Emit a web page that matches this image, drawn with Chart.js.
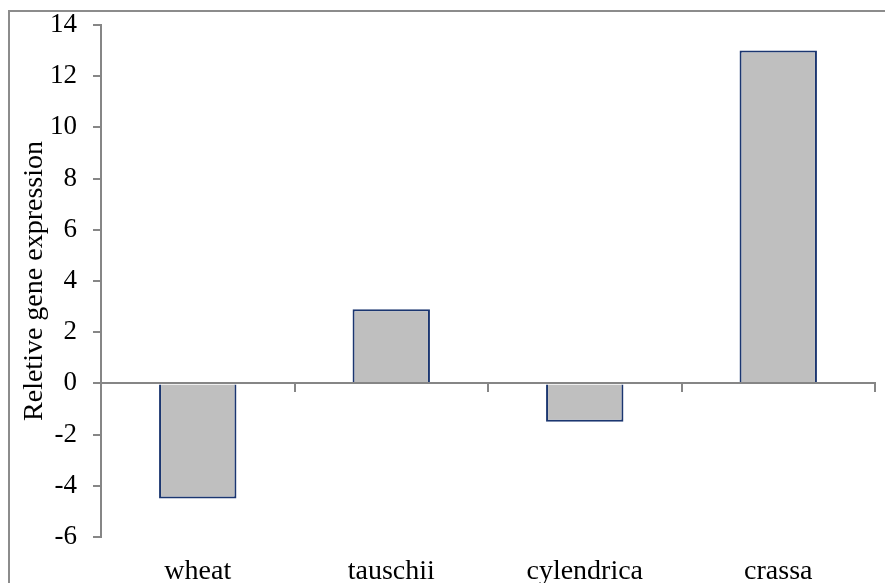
<!DOCTYPE html>
<html>
<head>
<meta charset="utf-8">
<script src="https://cdn.jsdelivr.net/npm/chart.js@4"></script>
<style>
    html, body { margin: 0; padding: 0; background: #fff; overflow: hidden; }
    #wrap { position: relative; width: 885px; height: 583px; }
    #frame { position: absolute; left: 8px; top: 10px; width: 1000px; height: 1000px;
             border-left: 2px solid #8c8c8c; border-top: 2px solid #8c8c8c; }
    canvas { position: absolute; left: 0; top: 0; }
</style>
</head>
<body>
<div id="wrap">
    <div id="frame"></div>
    <canvas id="c" width="885" height="583"></canvas>
</div>
<script>
const categories = [ 'wheat', 'tauschii', 'cylendrica', 'crassa' ];
const expression = [ -4.5, 2.9, -1.5, 13 ];
const yTicks = [ -6, -4, -2, 0, 2, 4, 6, 8, 10, 12, 14 ];

const axisGray = '#868686';

Chart.defaults.font.family = 'Liberation Serif, Times New Roman, serif';
Chart.defaults.font.size = 27;
Chart.defaults.color = '#000';
Chart.defaults.animation = false;

new Chart( document.getElementById( 'c' ), {
    type: 'bar',
    data: {
        labels: categories,
        datasets: [ {
            data: expression,
            xAxisID: 'x',
            backgroundColor: '#bfbfbf',
            borderColor: '#1b3670',
            borderWidth: 2,
            borderSkipped: 'start',
            categoryPercentage: 1,
            barPercentage: 0.4
        } ]
    },
    options: {
        responsive: false,
        devicePixelRatio: 1,
        events: [],
        layout: { padding: { left: 0, top: 25, right: 10, bottom: 0 } },
        plugins: { legend: false, tooltip: false },
        scales: {
            // the category axis drawn along zero, ticks only
            x: {
                type: 'category',
                position: { y: 0 },
                offset: true,
                grid: { display: true, drawOnChartArea: false, drawTicks: true, tickLength: 8, color: axisGray, lineWidth: 2, offset: true },
                border: { display: true, color: axisGray, width: 2, z: 1 },
                ticks: { display: false }
            },
            // labels underneath the plot
            x2: {
                type: 'category',
                position: 'bottom',
                labels: categories,
                offset: true,
                grid: { display: false, drawTicks: false },
                border: { display: false },
                ticks: { padding: 18, maxRotation: 0, font: { size: 28 } },
                afterFit: s => { s.height = 46; }
            },
            y: {
                position: 'left',
                min: yTicks[ 0 ],
                max: yTicks[ yTicks.length - 1 ],
                afterBuildTicks: s => { s.ticks = yTicks.map( v => ( { value: v } ) ); },
                grid: { display: true, drawOnChartArea: false, drawTicks: true, tickLength: 8, color: axisGray, lineWidth: 2 },
                border: { display: true, color: axisGray, width: 2 },
                ticks: { padding: 16 },
                title: {
                    display: true,
                    text: 'Reletive gene expression',
                    font: { size: 28 },
                    padding: { top: 18, bottom: 0 }
                },
                afterFit: s => {
                    s.width = 101;
                    s.paddingTop = 0;
                    s.paddingBottom = 0;
                }
            }
        }
    }
} );
</script>
</body>
</html>
